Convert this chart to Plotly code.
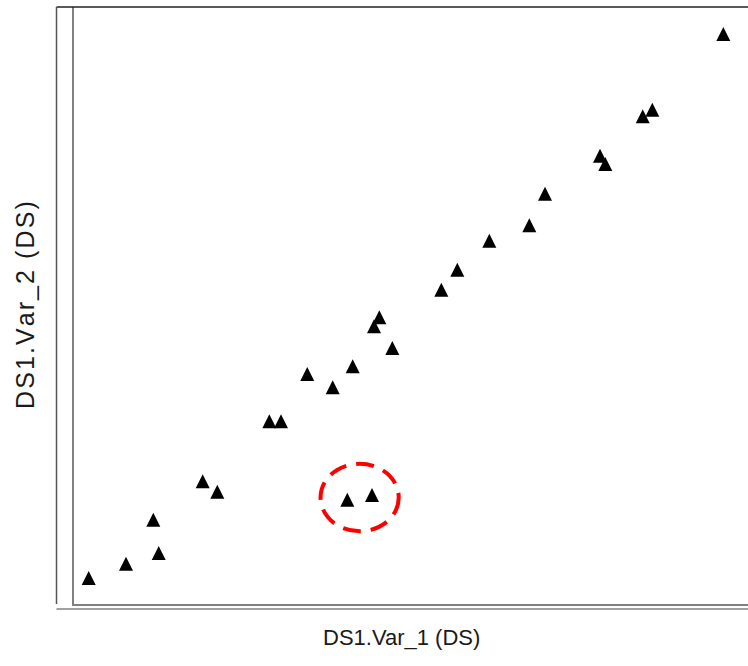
import plotly.graph_objects as go

# Data (arbitrary units, 0-100 on both axes)
var_1 = [2.18, 7.72, 11.77, 12.57, 19.09, 21.26, 28.98, 30.71, 34.61, 38.38,
         41.35, 40.55, 44.21, 44.51, 45.30, 47.23, 54.50, 56.87, 61.62, 67.55,
         69.88, 78.04, 78.83, 84.38, 85.80, 96.34]
var_2 = [5.53, 7.92, 15.29, 9.72, 21.73, 19.98, 31.78, 31.78, 39.70, 37.47,
         40.99, 18.64, 19.43, 47.69, 49.20, 44.05, 53.82, 57.17, 62.03, 64.61,
         69.90, 76.27, 74.87, 82.86, 83.97, 96.65]
highlight_idx = [11, 12]  # the two outliers circled in red

x_title = "DS1.Var_1 (DS)"
y_title = "DS1.Var_2 (DS)"

fig = go.Figure()
fig.add_trace(go.Scatter(
    x=var_1, y=var_2, mode="markers",
    marker=dict(symbol="arrow-up", size=14, color="black",
                line=dict(width=0)),
    hoverinfo="x+y", showlegend=False,
))

# dashed ellipse around the highlighted points
hx = [var_1[i] for i in highlight_idx]
hy = [var_2[i] for i in highlight_idx]
cx = sum(hx) / len(hx)
cy = sum(hy) / len(hy) - 1.2
fig.add_shape(type="circle", xref="x", yref="y",
              x0=cx - 5.8, x1=cx + 5.8, y0=cy - 5.65, y1=cy + 5.65,
              line=dict(color="#ff0000", width=4, dash="18px,10px"))

PL, PR, PT, PB = 74, 748, 7, 604
pw, ph = PR - PL, PB - PT
def px(x):
    return (x - PL) / pw
def py(y):
    return (PB - y) / ph

frame_left = px(56.5)
# frame lines
fig.add_shape(type="line", xref="paper", yref="paper", x0=frame_left, x1=1, y0=1, y1=1,
              line=dict(color="#222222", width=1.5))
fig.add_shape(type="line", xref="paper", yref="paper", x0=frame_left, x1=frame_left, y0=0, y1=1,
              line=dict(color="#555555", width=1.5))
fig.add_shape(type="line", xref="paper", yref="paper", x0=frame_left, x1=1, y0=py(609), y1=py(609),
              line=dict(color="#808080", width=1.5))

fig.add_annotation(text=x_title, xref="paper", yref="paper", x=px(401), y=py(637),
                   xanchor="center", yanchor="middle", showarrow=False,
                   font=dict(family="Liberation Sans, Arial, sans-serif", size=22, color="#1a1a1a"))
# the y title in the reference is drawn larger, with slightly wider letter spacing
y_title_spaced = "\u200a".join(y_title)
fig.add_annotation(text=y_title_spaced, xref="paper", yref="paper", x=px(25), y=py(305),
                   xanchor="center", yanchor="middle", showarrow=False, textangle=-90,
                   font=dict(family="Liberation Sans, Arial, sans-serif", size=25, color="#1a1a1a"))

axis_common = dict(range=[0, 100], showgrid=False, zeroline=False, showticklabels=False,
                   ticks="", showline=True, linecolor="#808080", linewidth=1.7, fixedrange=True)
fig.update_layout(
    width=748, height=666,
    margin=dict(l=PL, r=748 - PR, t=PT, b=666 - PB),
    paper_bgcolor="white", plot_bgcolor="white",
    xaxis=axis_common, yaxis=axis_common,
    showlegend=False,
)
fig.write_html("out.html", config={"displayModeBar": False},
               post_script="document.body.style.margin='0px';document.body.style.padding='0px';document.body.style.overflow='hidden';")
